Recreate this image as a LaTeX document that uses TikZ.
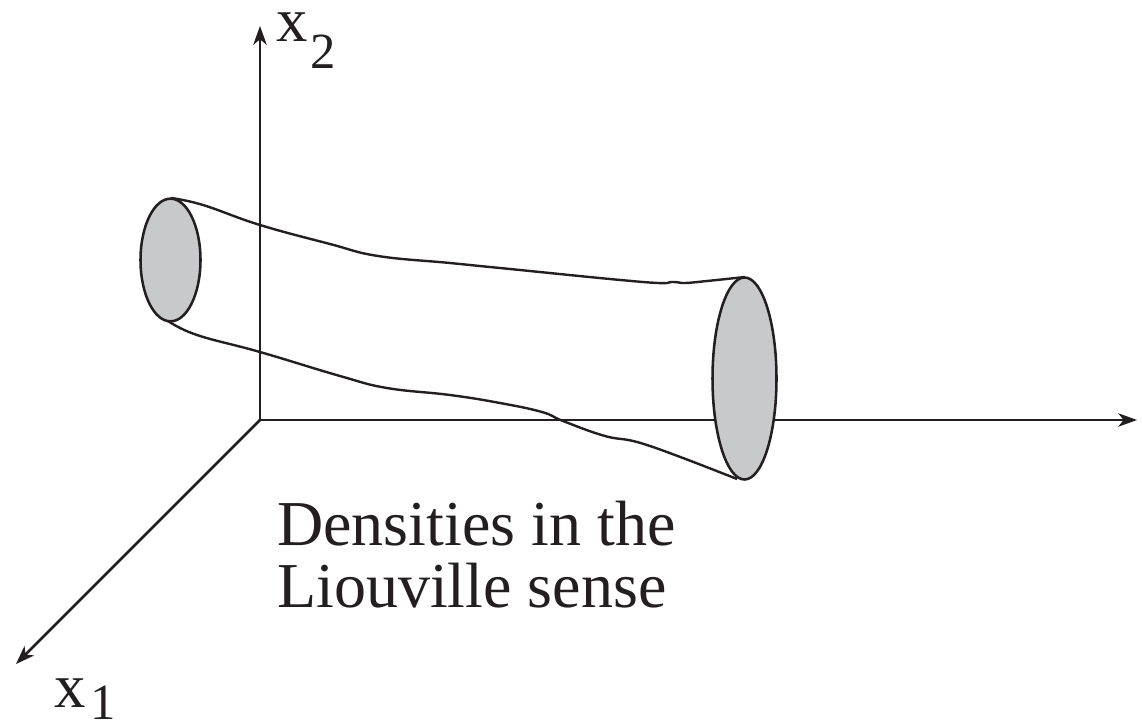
\documentclass[tikz,border=0pt]{standalone}
\usepackage{fontspec}
\setmainfont{Liberation Serif}
\usetikzlibrary{arrows.meta,shapes.geometric}
\definecolor{ink}{RGB}{35,31,32}
\definecolor{discfill}{RGB}{200,201,203}
\tikzset{
 axis/.style={draw=ink,line width=1.9pt,-{Stealth[length=14pt,width=10pt,inset=4pt]}},
 tube/.style={draw=ink,line width=1.8pt},
 disc/.style={draw=ink,line width=1.9pt,fill=discfill,ellipse,inner sep=0pt,outer sep=0pt},
 lab/.style={inner sep=0pt,anchor=base west,text=ink,font=\fontsize{47pt}{50pt}\selectfont},
 sublab/.style={inner sep=0pt,anchor=base west,text=ink,font=\fontsize{38pt}{40pt}\selectfont},
 body/.style={inner sep=0pt,anchor=base west,text=ink,font=\fontsize{48pt}{52pt}\selectfont}
}
\begin{document}
\begin{tikzpicture}[x=0.75pt,y=-0.75pt]
\useasboundingbox (0,0) rectangle (1142,721);
\coordinate (o) at (260,420);
\coordinate (top) at (260,26);
\coordinate (right) at (1137,420);
\coordinate (left) at (16,664);
\draw[axis] (o) -- (top);
\draw[axis] (o) -- (right);
\draw[axis] (o) -- (left);
\draw[tube] plot[smooth,tension=0.7] coordinates {(171,198) (203,205) (260,225) (330,244) (378,256) (450,263) (500,268) (643,282) (673,282) (685,283) (707,281) (745,277)};
\draw[tube] plot[smooth,tension=0.7] coordinates {(168,321) (197,335) (260,352) (340,376) (387,388) (450,395) (500,403) (542,412) (563,421) (605,436) (647,445) (737,479)};
\node[disc,minimum width=45pt,minimum height=92pt] (d0) at (170.5,260) {};
\node[disc,minimum width=48pt,minimum height=151.5pt] (d1) at (744.5,378.5) {};
\node[lab] (x2) at (276,41) {x};
\node[sublab] (x2s) at (310,68) {2};
\node[lab] (x1) at (54,707) {x};
\node[sublab] (x1s) at (90,719) {1};
\node[body] (t1) at (277,545) {Densities in the};
\node[body] (t2) at (277,607) {Liouville sense};
\end{tikzpicture}
\end{document}
